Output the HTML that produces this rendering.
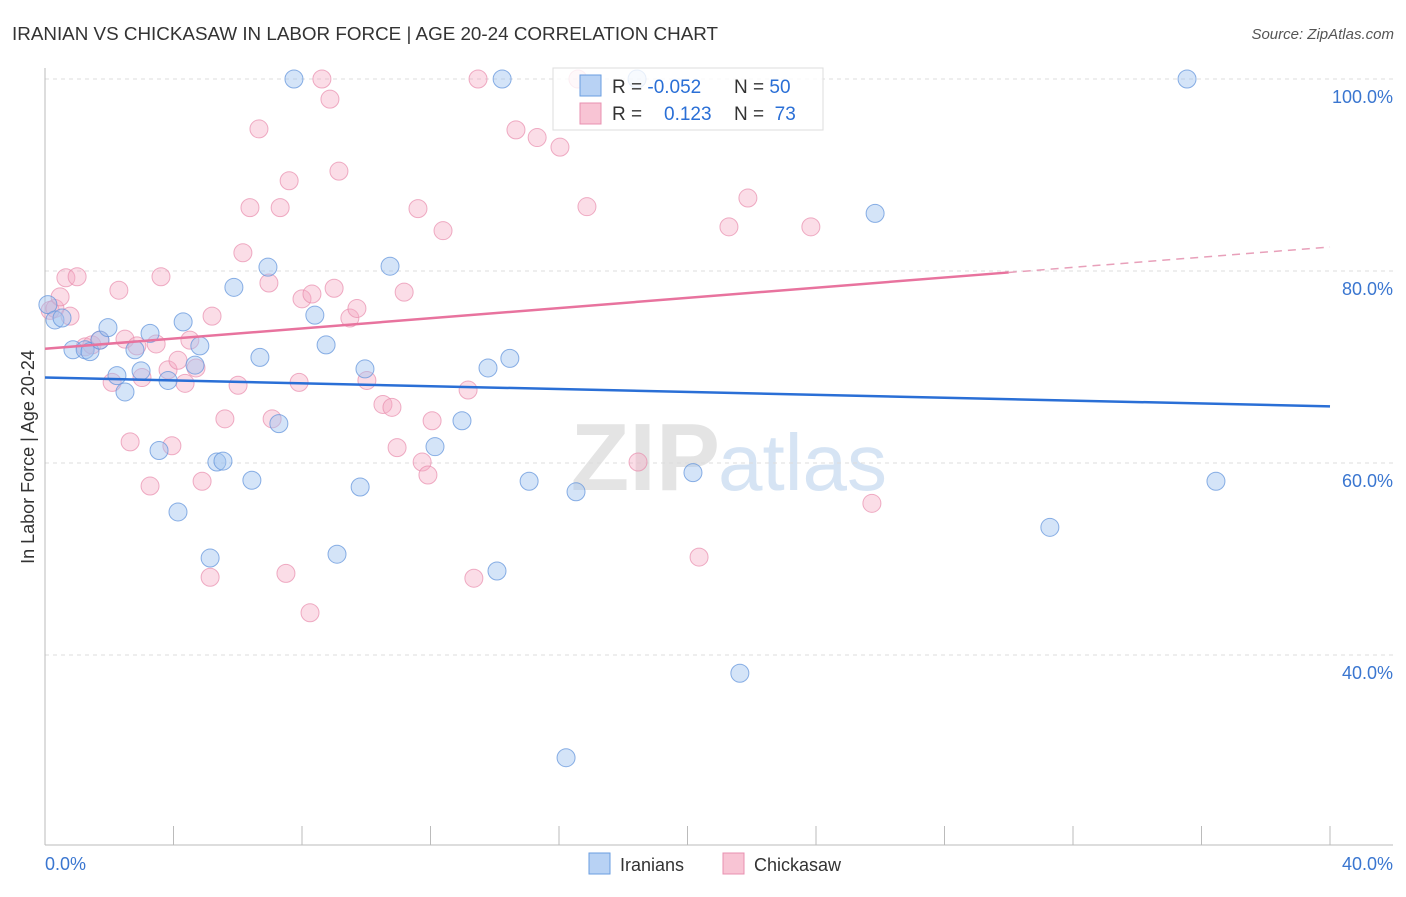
<!DOCTYPE html>
<html><head><meta charset="utf-8"><style>
body{margin:0;background:#fff;font-family:"Liberation Sans",sans-serif;}
svg text{font-family:"Liberation Sans",sans-serif;}
</style></head><body>
<svg id="chart" width="1406" height="892" xmlns="http://www.w3.org/2000/svg">
<text x="12" y="40" font-size="18.5" fill="#333" textLength="706" lengthAdjust="spacingAndGlyphs">IRANIAN VS CHICKASAW IN LABOR FORCE | AGE 20-24 CORRELATION CHART</text>
<text x="1394" y="39" font-size="15" fill="#555" font-style="italic" text-anchor="end">Source: ZipAtlas.com</text>
<text x="720" y="490" font-size="96" fill="#e4e4e4" text-anchor="end" font-family="Liberation Serif" font-weight="bold">ZIP</text>
<text x="718" y="490" font-size="80" fill="#d6e4f4">atlas</text>
<g id="grid"></g><g id="axes"></g><g id="marks"></g><g id="trends"></g>
<text transform="translate(34,457) rotate(-90)" font-size="18" fill="#333" text-anchor="middle">In Labor Force | Age 20-24</text>
<g>
<rect x="553" y="68" width="270" height="62" fill="rgba(255,255,255,0.8)" stroke="#ddd"/>
<rect x="580" y="75" width="21" height="21" fill="#b8d2f4" stroke="#6a9ee0"/>
<rect x="580" y="103" width="21" height="21" fill="#f8c4d4" stroke="#e890b0"/>
<text x="612" y="93" font-size="19" fill="#333">R = <tspan fill="#2a6fd6">-0.052</tspan></text>
<text x="734" y="93" font-size="19" fill="#333">N = <tspan fill="#2a6fd6">50</tspan></text>
<text x="612" y="120" font-size="19" fill="#333">R = <tspan fill="#2a6fd6" x="664">0.123</tspan></text>
<text x="734" y="120" font-size="19" fill="#333">N = <tspan fill="#2a6fd6">&#160;73</tspan></text>
</g>
<g>
<rect x="589" y="853" width="21" height="21" fill="#b8d2f4" stroke="#6a9ee0"/>
<text x="620" y="871" font-size="18" fill="#333">Iranians</text>
<rect x="723" y="853" width="21" height="21" fill="#f8c4d4" stroke="#e890b0"/>
<text x="754" y="871" font-size="18" fill="#333">Chickasaw</text>
</g>
</svg>
<script>
const yTicks=[40,60,80,100];
const yTickLabels=["40.0%","60.0%","80.0%","100.0%"];
const xTicks=[0,4,8,12,16,20,24,28,32,36,40];
const blueX=[0.09,0.31,0.53,0.87,1.25,1.40,1.71,1.96,2.24,2.49,2.80,2.99,3.27,3.55,3.83,4.14,4.30,4.67,4.82,5.14,5.35,5.54,5.88,6.44,6.69,6.94,7.28,7.75,8.40,8.75,9.09,9.81,9.96,10.74,12.14,12.98,13.79,14.07,14.23,14.47,15.07,16.22,16.53,18.43,20.17,21.63,25.84,31.28,35.55,36.45];
const blueY=[76.5,74.9,75.1,71.8,71.8,71.6,72.8,74.1,69.1,67.4,71.8,69.6,73.5,61.3,68.6,54.9,74.7,70.2,72.2,50.1,60.1,60.2,78.3,58.2,71.0,80.4,64.1,100,75.4,72.3,50.5,57.5,69.8,80.5,61.7,64.4,69.9,48.75,100,70.9,58.1,29.3,57.0,100,59.0,38.1,86.0,53.3,100,58.1];
const pinkX=[0.16,0.31,0.47,0.65,0.78,1.00,1.25,1.46,1.71,2.09,2.30,2.49,2.65,2.86,3.02,3.27,3.46,3.61,3.83,3.95,4.14,4.36,4.51,4.70,4.89,5.14,5.20,5.60,6.01,6.16,6.38,6.66,6.97,7.07,7.32,7.50,7.60,7.91,8.00,8.25,8.31,8.62,8.87,9.00,9.15,9.49,9.71,10.02,10.52,10.80,10.96,11.18,11.61,11.74,11.92,12.05,12.39,13.17,13.35,13.48,14.66,15.32,16.03,16.59,16.87,18.46,20.36,21.29,21.88,23.84,25.74];
const pinkY=[75.9,76.1,77.3,79.3,75.3,79.4,72.1,72.3,72.8,68.4,78.0,72.9,62.2,72.2,68.9,57.6,72.4,79.4,69.7,61.8,70.7,68.3,72.8,69.9,58.1,48.1,75.3,64.6,68.1,81.9,86.6,94.8,78.75,64.6,86.6,48.5,89.4,68.4,77.1,44.4,77.6,100,97.9,78.2,90.4,75.1,76.1,68.6,66.1,65.8,61.6,77.8,86.5,60.1,58.75,64.4,84.2,67.6,48.0,100,94.7,93.9,92.9,100,86.7,60.1,50.2,84.6,87.6,84.6,55.8];
const blueTrend=[68.9,65.9];
const pinkTrend=[71.9,82.5];
const pinkSolidEnd=30;
const NS="http://www.w3.org/2000/svg";
const X=v=>45+v/40*1285;
const Y=v=>79+(100-v)*9.6;
function mk(parent,tag,attrs){const e=document.createElementNS(NS,tag);for(const k in attrs)e.setAttribute(k,attrs[k]);document.getElementById(parent).appendChild(e);return e;}
yTicks.forEach((t,i)=>{
 const l=mk('grid','line',{x1:45,x2:1393,y1:Y(t),y2:Y(t),stroke:'#ddd','stroke-dasharray':'4,4'});
 
 
 const tx=mk('axes','text',{x:1393,y:Y(t)+24,'font-size':18,fill:'#3a76d0','text-anchor':'end'});
 tx.textContent=yTickLabels[i];
 
 
});
let a=mk('axes','line',{x1:45,x2:45,y1:68,y2:845,stroke:'#bbb'});


a=mk('axes','line',{x1:45,x2:1393,y1:845,y2:845,stroke:'#bbb'});


xTicks.forEach(t=>{
 const l=mk('axes','line',{x1:X(t),x2:X(t),y1:826,y2:845,stroke:'#bbb'});
 
 
});
let xl=mk('axes','text',{x:45,y:870,'font-size':18,fill:'#3a76d0'});xl.textContent='0.0%';


xl=mk('axes','text',{x:1393,y:870,'font-size':18,fill:'#3a76d0','text-anchor':'end'});xl.textContent='40.0%';


pinkX.forEach((v,i)=>{
 const c=mk('marks','circle',{cx:X(v),cy:Y(pinkY[i]),r:9,fill:'rgba(245,170,196,0.4)',stroke:'rgba(232,140,172,0.7)'});
 
 
});
blueX.forEach((v,i)=>{
 const c=mk('marks','circle',{cx:X(v),cy:Y(blueY[i]),r:9,fill:'rgba(160,196,240,0.45)',stroke:'rgba(100,150,220,0.75)'});
 
 
});
let t=mk('trends','line',{x1:X(0),y1:Y(blueTrend[0]),x2:X(40),y2:Y(blueTrend[1]),stroke:'#2a6fd6','stroke-width':2.5});


const pAt=v=>pinkTrend[0]+(pinkTrend[1]-pinkTrend[0])*v/40;
t=mk('trends','line',{x1:X(0),y1:Y(pinkTrend[0]),x2:X(pinkSolidEnd),y2:Y(pAt(pinkSolidEnd)),stroke:'#e8739e','stroke-width':2.5});


t=mk('trends','line',{x1:X(pinkSolidEnd),y1:Y(pAt(pinkSolidEnd)),x2:X(40),y2:Y(pinkTrend[1]),stroke:'#e8a0ba','stroke-width':1.5,'stroke-dasharray':'8,6'});


</script>
</body></html>
